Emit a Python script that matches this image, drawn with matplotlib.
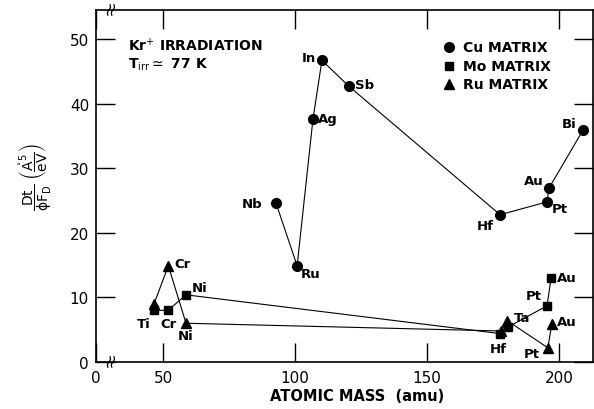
import numpy as np
import matplotlib
matplotlib.use("Agg")
import matplotlib.pyplot as plt

plt.rcParams["mathtext.fontset"] = "dejavusans"

# ── Data ──────────────────────────────────────────────
cu_names = ["Nb", "Ru", "Ag", "In", "Sb", "Hf", "Pt", "Au", "Bi"]
cu_mass  = [92.8, 100.8, 106.8, 110.2, 120.4, 177.7, 195.5, 196.2, 209.1]
cu_val   = [24.6, 14.9, 37.6, 46.7, 42.7, 22.8, 24.8, 26.9, 35.9]

mo_names = ["Ti", "Cr", "Ni", "Hf", "Ta", "Pt", "Au"]
mo_mass  = [46.6, 51.9, 58.7, 177.7, 180.6, 195.5, 197.0]
mo_val   = [8.0, 8.0, 10.4, 4.4, 5.4, 8.7, 13.0]

ru_names = ["Ti", "Cr", "Ni", "Hf", "Ta", "Pt", "Au"]
ru_mass  = [46.6, 52.0, 58.7, 178.2, 180.4, 195.8, 197.3]
ru_val   = [9.0, 14.9, 6.0, 4.8, 6.4, 2.2, 5.9]

x_ticks  = [50, 100, 150, 200]
y_ticks  = [0, 10, 20, 30, 40, 50]

# label offsets in pixels (text position relative to the marker)
cu_off = {"Nb": (-14, 0, "right"), "Ru": (4, -8, "left"), "Ag": (5, 1, "left"),
          "In": (-6, 3, "right"), "Sb": (6, 2, "left"), "Hf": (-6, -11, "right"),
          "Pt": (5, -7, "left"), "Au": (-5, 8, "right"), "Bi": (-6, 7, "right")}
mo_off = {"Ti": (-3, -13, "right"), "Cr": (0, -13, "center"), "Ni": (6, 7, "left"),
          "Hf": (-2, -15, "center"), "Ta": (6, 10, "left"), "Pt": (-5, 10, "right"),
          "Au": (6, 1, "left")}
ru_off = {"Cr": (6, 2, "left"), "Ni": (0, -12, "center"), "Pt": (-8, -6, "right"),
          "Au": (5, 2, "left")}

# ── Figure ────────────────────────────────────────────
fig = plt.figure(figsize=(5.94, 4.10), dpi=100)
ax = fig.add_axes([96 / 594, 47 / 410, 497 / 594, 352 / 410])

lw = 0.8
ax.plot(cu_mass, cu_val, "-", color="black", lw=lw, marker="o", ms=7, mfc="black")
ax.plot(mo_mass, mo_val, "-", color="black", lw=lw, marker="s", ms=6, mfc="black")
ax.plot(ru_mass, ru_val, "-", color="black", lw=lw, marker="^", ms=7.5, mfc="black")

fs = 9.5
for names, xs, ys, offs in [(cu_names, cu_mass, cu_val, cu_off),
                            (mo_names, mo_mass, mo_val, mo_off),
                            (ru_names, ru_mass, ru_val, ru_off)]:
    for n, x, y in zip(names, xs, ys):
        if n not in offs:
            continue
        dx, dy, ha = offs[n]
        ax.annotate(n, (x, y), xytext=(dx, dy), textcoords="offset pixels",
                    ha=ha, va="center", fontsize=fs, fontweight="bold")

# ── Axes ──────────────────────────────────────────────
ax.set_xlim(24.6, 212.9)
ax.set_ylim(0, 54.5)
ax.set_xticks([24.6] + x_ticks)
ax.set_xticklabels(["0"] + [str(t) for t in x_ticks])
ax.set_yticks(y_ticks)
ax.tick_params(direction="in", length=14, width=1.0, top=True, right=True,
               labelsize=11, pad=6)
ax.tick_params(axis="y", pad=5)
for s in ax.spines.values():
    s.set_linewidth(1.2)

ax.set_xlabel("ATOMIC MASS  (amu)", fontsize=10.5, fontweight="bold")
ax.xaxis.set_label_coords(0.525, -0.075)
ax.set_ylabel(r"$\dfrac{\mathrm{Dt}}{\mathrm{\phi F_D}}\ \left(\dfrac{\mathring{\mathrm{A}}^{5}}{\mathrm{eV}}\right)$",
              fontsize=10)
ax.yaxis.set_label_coords(-0.085, 0.53)

# axis break marks
for yb in (0, 54.5):
    t = np.linspace(-1, 1, 20)
    for xb in (29.5, 31.0):
        ax.plot(xb + 0.35 * np.sin(t * np.pi) + t * 0.4, yb + t * 0.8, color="black",
                lw=0.9, clip_on=False)

# text block
ax.text(0.065, 0.902, r"Kr$^{+}$ IRRADIATION", transform=ax.transAxes,
        fontsize=10, fontweight="bold", va="center")
ax.text(0.065, 0.848, r"T$_{\mathrm{irr}}$$\simeq$ 77 K", transform=ax.transAxes,
        fontsize=10, fontweight="bold", va="center")

# legend
leg_x = 0.71
for i, (m, lab, ms) in enumerate([("o", "Cu MATRIX", 7), ("s", "Mo MATRIX", 6),
                                  ("^", "Ru MATRIX", 7)]):
    yy = 0.895 - i * 0.053
    ax.plot([leg_x], [yy], marker=m, ms=ms, color="black", transform=ax.transAxes,
            clip_on=False)
    ax.text(leg_x + 0.028, yy, lab, transform=ax.transAxes, fontsize=10,
            fontweight="bold", va="center")

plt.savefig("out.png", dpi=100)
